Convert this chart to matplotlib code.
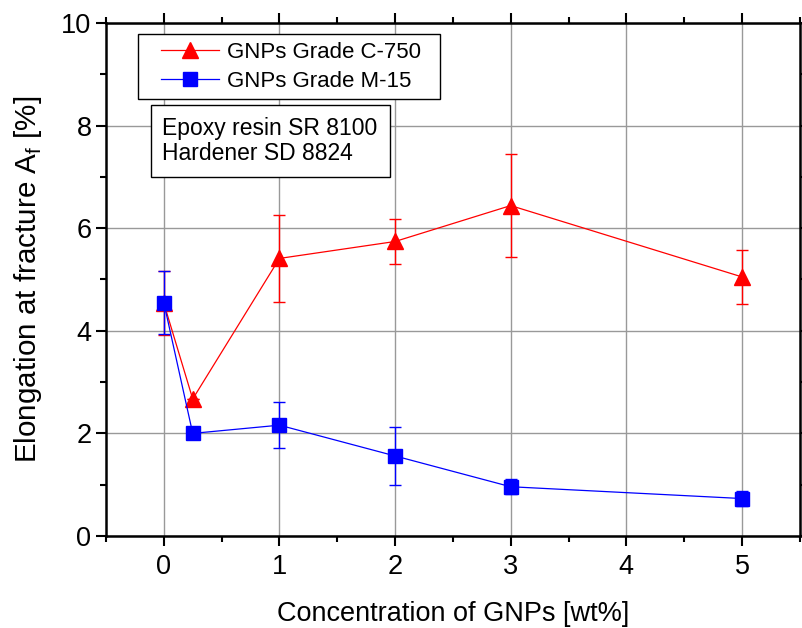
import matplotlib
matplotlib.use("Agg")
import matplotlib.pyplot as plt
from matplotlib.lines import Line2D
from matplotlib.legend_handler import HandlerLine2D
from matplotlib.ticker import MultipleLocator

plt.rcParams['font.family'] = ['Liberation Sans', 'DejaVu Sans']
plt.rcParams['mathtext.fontset'] = 'custom'
plt.rcParams['mathtext.rm'] = 'Liberation Sans'

# data
conc = [0, 0.25, 1, 2, 3, 5]
c750 = [4.54, 2.67, 5.41, 5.74, 6.44, 5.05]
c750_err = [0.62, 0.0, 0.84, 0.43, 1.0, 0.53]
m15 = [4.55, 2.0, 2.16, 1.56, 0.96, 0.73]
m15_err = [0.62, 0.0, 0.45, 0.56, 0.15, 0.15]

fig = plt.figure(figsize=(8.03, 6.28), dpi=100)
ax = fig.add_axes([0.132, 0.1465, 0.864, 0.817])

ax.errorbar(conc, c750, yerr=c750_err, color='#ff0000', marker='^', ms=12,
            lw=0.9, elinewidth=1.0, capsize=4, capthick=1.0, zorder=3)
ax.errorbar(conc, m15, yerr=m15_err, color='#0000ff', marker='s', ms=9.5,
            lw=0.9, elinewidth=1.0, capsize=4, capthick=1.0, zorder=4)

ax.set_xlim(-0.5, 5.5)
ax.set_ylim(0, 10)
ax.xaxis.set_major_locator(MultipleLocator(1))
ax.xaxis.set_minor_locator(MultipleLocator(0.5))
ax.yaxis.set_major_locator(MultipleLocator(2))
ax.yaxis.set_minor_locator(MultipleLocator(1))
ax.grid(True, which='major', color='#999999', lw=1.0)
ax.set_axisbelow(True)

ax.tick_params(which='both', direction='out', top=True, right=True,
               labelsize=19.5, width=1.5)
ax.tick_params(which='major', length=7)
ax.tick_params(which='minor', length=4)
ax.tick_params(axis='x', pad=6)
for s in ax.spines.values():
    s.set_linewidth(1.8)

ax.set_xlabel('Concentration of GNPs [wt%]', fontsize=19.5, labelpad=15)
ax.set_ylabel(r'Elongation at fracture A$_\mathregular{f}$ [%]', fontsize=21.3, labelpad=12)

handles = [
    Line2D([], [], color='#ff0000', marker='^', ms=12, lw=0.9),
    Line2D([], [], color='#0000ff', marker='s', ms=9.5, lw=0.9),
]
leg = ax.legend(handles, ['GNPs Grade C-750  ', 'GNPs Grade M-15'],
                loc='upper left', bbox_to_anchor=(0.046, 0.978), borderaxespad=0,
                fontsize=16, fancybox=False, framealpha=1, edgecolor='black',
                handlelength=3.3, borderpad=0.33, labelspacing=0.38,
                handletextpad=0.36,
                handler_map={Line2D: HandlerLine2D(xpad=0.73)})
leg.get_frame().set_linewidth(1.0)

ax.text(0.0634 + 0.018, 0.816, 'Epoxy resin SR 8100\nHardener SD 8824',
        transform=ax.transAxes, fontsize=16.5, va='top', ha='left', linespacing=1.1,
        bbox=dict(boxstyle='square,pad=0.52', fc='white', ec='black', lw=1.0))

fig.savefig('out.png', dpi=100)
